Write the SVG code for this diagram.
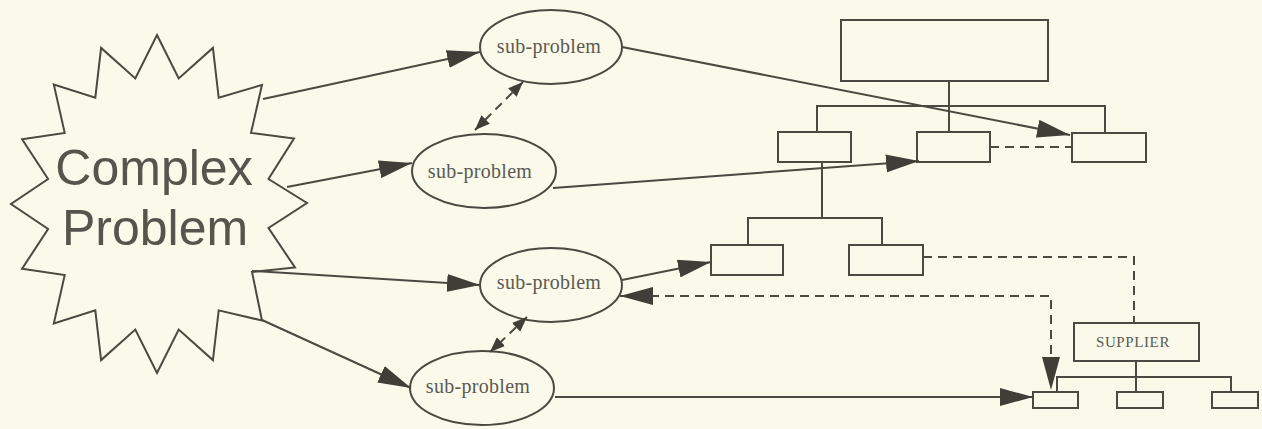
<svg xmlns="http://www.w3.org/2000/svg" width="1262" height="429" viewBox="0 0 1262 429">
<style>
.ln{fill:none;stroke:#4a4a42;stroke-width:2;}
.ds{fill:none;stroke:#4a4a42;stroke-width:2;stroke-dasharray:9 6;}
.shape{fill:none;stroke:#4a4a42;stroke-width:2;}
.big{font-family:"Liberation Sans",Arial,sans-serif;font-size:50px;fill:#55554d;text-anchor:middle;}
.sub{font-family:"Liberation Serif","Times New Roman",serif;font-size:20px;fill:#5a5a52;text-anchor:middle;letter-spacing:0.3px;}
.sup{font-family:"Liberation Serif","Times New Roman",serif;font-size:15px;fill:#5a5a52;text-anchor:middle;letter-spacing:0.6px;}
</style>
<defs>
<marker id="ah" markerUnits="userSpaceOnUse" viewBox="0 0 33 18" refX="33" refY="9" markerWidth="33" markerHeight="18" orient="auto-start-reverse">
<path d="M0,0 L33,9 L0,18 z" fill="#3f3f38"/>
</marker>
<marker id="sh" markerUnits="userSpaceOnUse" viewBox="0 0 15 12" refX="15" refY="6" markerWidth="15" markerHeight="12" orient="auto-start-reverse">
<path d="M0,0 L15,6 L0,12 z" fill="#3f3f38"/>
</marker>
</defs>
<rect x="0" y="0" width="1262" height="429" fill="#fbf9ea"/>

<g id="complex-problem">
<polygon class="shape" points="157,35 178.7,78.5 212.9,47.9 218.7,97.6 262,85 251,132.9 294,138.5 268.5,179 307,203 268.5,228 295,267.5 252,272 262,320.5 218.7,310.4 212.9,360.1 178.7,329.5 157,373 135.3,329.5 101.1,360.1 95.3,310.4 53.8,323.5 64.7,275.1 22.1,268.7 48.1,229 11,204 48.1,179 22.1,139.3 64.7,132.9 53.8,84.5 95.3,97.6 101.1,47.9 135.3,78.5"/>
<text class="big" x="154" y="185">Complex</text>
<text class="big" x="155" y="245">Problem</text>
</g>

<g id="sub-problem-1">
<ellipse class="shape" cx="551" cy="47" rx="71" ry="37"/>
<text class="sub" x="549" y="53">sub-problem</text>
</g>
<g id="sub-problem-2">
<ellipse class="shape" cx="484" cy="171" rx="72" ry="37"/>
<text class="sub" x="480" y="178">sub-problem</text>
</g>
<g id="sub-problem-3">
<ellipse class="shape" cx="551" cy="285" rx="71" ry="37"/>
<text class="sub" x="549" y="289">sub-problem</text>
</g>
<g id="sub-problem-4">
<ellipse class="shape" cx="482" cy="388" rx="72" ry="37"/>
<text class="sub" x="478" y="393">sub-problem</text>
</g>

<g id="org-top"><rect class="shape" x="841" y="20" width="207" height="61"/></g>
<g id="org-l1"><rect class="shape" x="778" y="132" width="73" height="30"/></g>
<g id="org-m1"><rect class="shape" x="917" y="132" width="73" height="30"/></g>
<g id="org-r1"><rect class="shape" x="1072" y="133" width="74" height="29"/></g>
<g id="org-l2"><rect class="shape" x="711" y="245" width="72" height="30"/></g>
<g id="org-r2"><rect class="shape" x="849" y="245" width="74" height="30"/></g>
<g id="supplier">
<rect class="shape" x="1074" y="323" width="125" height="38"/>
<text class="sup" x="1133" y="347">SUPPLIER</text>
</g>
<g id="sup-s1"><rect class="shape" x="1033" y="392" width="45" height="16"/></g>
<g id="sup-s2"><rect class="shape" x="1117" y="392" width="46" height="16"/></g>
<g id="sup-s3"><rect class="shape" x="1212" y="392" width="46" height="16"/></g>

<g id="connectors">
<path class="ln" d="M949,81 V132 M817,132 V106 H1105 V133"/>
<path class="ln" d="M822,162 V218 M748,245 V218 H882 V245"/>
<path class="ln" d="M1136,361 V392 M1057,392 V377 H1231 V392"/>
<path class="ln" d="M263,99 L480,52" marker-end="url(#ah)"/>
<path class="ln" d="M287,187 L412,163" marker-end="url(#ah)"/>
<path class="ln" d="M252,271 L480,285" marker-end="url(#ah)"/>
<path class="ln" d="M262,320 L411,388" marker-end="url(#ah)"/>
<path class="ds" d="M523,82 L475,130" marker-start="url(#sh)" marker-end="url(#sh)"/>
<path class="ds" d="M527,317 L490,352" marker-start="url(#sh)" marker-end="url(#sh)"/>
<path class="ln" d="M622,47 L1070,135" marker-end="url(#ah)"/>
<path class="ln" d="M553,188 L919,161" marker-end="url(#ah)"/>
<path class="ln" d="M622,280 L711,262" marker-end="url(#ah)"/>
<path class="ds" d="M620,296 L1051,296 L1051,390" marker-start="url(#ah)" marker-end="url(#ah)"/>
<path class="ln" d="M555,397 L1033,397" marker-end="url(#ah)"/>
<path class="ds" d="M990,147 L1072,147"/>
<path class="ds" d="M923,257 L1134,257 L1134,323"/>
</g>
</svg>
